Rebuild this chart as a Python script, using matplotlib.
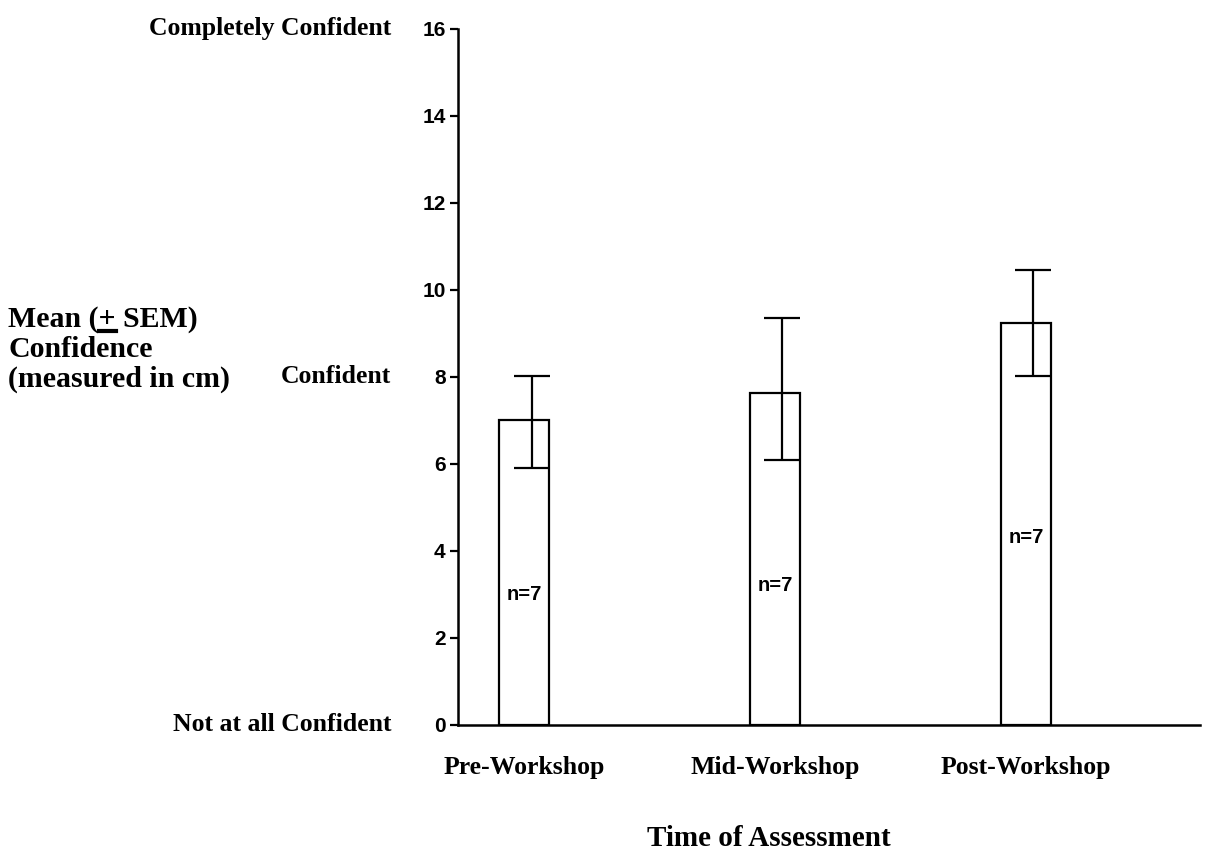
import numpy as np
import matplotlib.pyplot as plt

categories = ['Pre-Workshop', 'Mid-Workshop', 'Post-Workshop']
means = [7.01, 7.64, 9.23]
upper = [8.03, 9.35, 10.46]
lower = [5.91, 6.08, 8.02]
n_labels = ['n=7', 'n=7', 'n=7']
n_label_y = [3.0, 3.2, 4.3]
yticks = [0, 2, 4, 6, 8, 10, 12, 14, 16]
anchors = {16: 'Completely Confident', 8: 'Confident', 0: 'Not at all Confident'}

serif = 'Liberation Serif'
sans = 'Liberation Sans'

fig = plt.figure(figsize=(12.06, 8.52), dpi=100)
ax = fig.add_axes([0.3798, 0.1491, 0.615, 0.817])

x = np.arange(len(categories))
ax.bar(x, means, width=0.2, color='white', edgecolor='black', linewidth=1.6, zorder=2)

# error bars sit a little right of the bar centres in the original
err_x = x + 0.03
yerr = [np.array(means) - np.array(lower), np.array(upper) - np.array(means)]
ax.errorbar(err_x, means, yerr=yerr, fmt='none', ecolor='black',
            elinewidth=1.6, capsize=13, capthick=1.6, zorder=3)

for xi, lab, yy in zip(x, n_labels, n_label_y):
    ax.text(xi, yy, lab, ha='center', va='center', fontsize=14.5,
            fontweight='bold', family=sans, zorder=4)

ax.set_xlim(-0.263, 2.693)
ax.set_ylim(0, 16)
ax.set_yticks(yticks)
ax.set_yticklabels([str(t) for t in yticks], fontsize=15, fontweight='bold', family=sans)
ax.tick_params(axis='y', length=6, width=1.6, pad=3)
ax.set_xticks(x)
ax.set_xticklabels(categories, fontsize=18.5, fontweight='bold', family=serif)
ax.tick_params(axis='x', length=0, pad=22)

for s in ['top', 'right']:
    ax.spines[s].set_visible(False)
for s in ['left', 'bottom']:
    ax.spines[s].set_linewidth(1.8)

for val, lab in anchors.items():
    ax.text(-0.53, val, lab, ha='right', va='center', fontsize=18.5,
            fontweight='bold', family=serif, clip_on=False)

fig.text(769 / 1206, 1 - 838 / 852, 'Time of Assessment', ha='center', va='center',
         fontsize=21, fontweight='bold', family=serif)

# y label, with the "+" underlined
lx = 8 / 1206
baselines = [327, 357, 387]
lines = ['Mean (+ SEM)', 'Confidence', '(measured in cm)']
for ly, txt in zip(baselines, lines):
    fig.text(lx, 1 - ly / 852, txt, ha='left', va='baseline', fontsize=21.5,
             fontweight='bold', family=serif)

fig.canvas.draw()
r = fig.canvas.get_renderer()
probe = fig.text(lx, 1 - baselines[0] / 852, 'Mean (', ha='left', va='baseline',
                 fontsize=21.5, fontweight='bold', family=serif, alpha=0)
b1 = probe.get_window_extent(r)
probe.set_text('Mean (+')
b2 = probe.get_window_extent(r)
probe.remove()
uy = 1 - 331 / 852
fig.add_artist(plt.Line2D([b1.x1 / 1206, b2.x1 / 1206], [uy, uy], color='black',
                          linewidth=3, transform=fig.transFigure))

fig.savefig('out.png', dpi=100)
